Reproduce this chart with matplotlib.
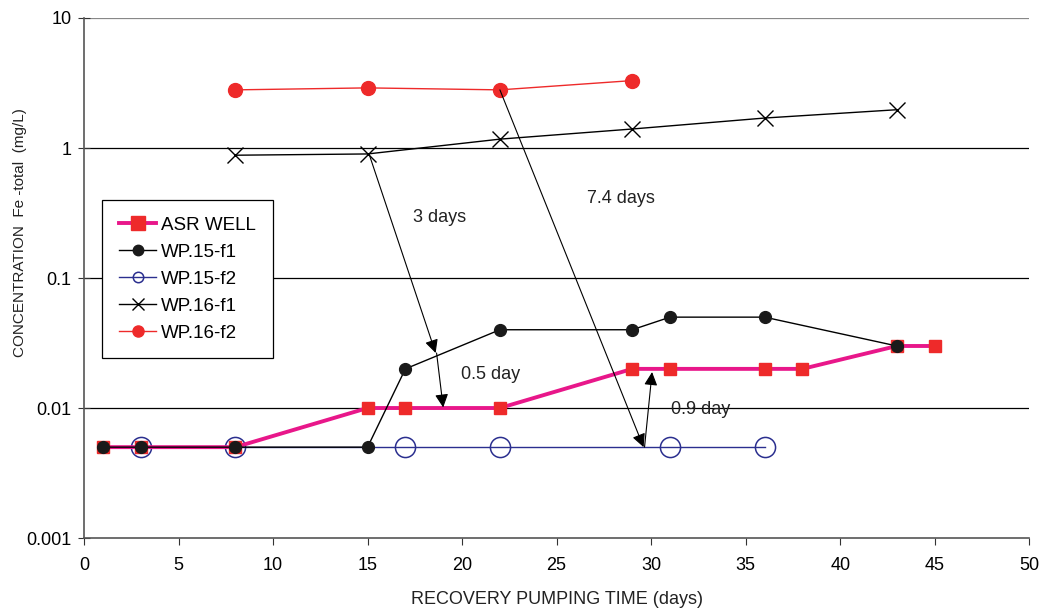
import matplotlib.pyplot as plt

plt.rcParams['font.family'] = ['Liberation Sans', 'DejaVu Sans']

# recovery pumping time (days) and Fe-total concentration (mg/L)
asr_days = [1, 3, 8, 15, 17, 22, 29, 31, 36, 38, 43, 45]
asr_fe = [0.005, 0.005, 0.005, 0.01, 0.01, 0.01, 0.02, 0.02, 0.02, 0.02, 0.03, 0.03]

wp15f1_days = [1, 3, 8, 15, 17, 22, 29, 31, 36, 43]
wp15f1_fe = [0.005, 0.005, 0.005, 0.005, 0.02, 0.04, 0.04, 0.05, 0.05, 0.03]

wp15f2_days = [3, 8, 17, 22, 31, 36]
wp15f2_fe = [0.005, 0.005, 0.005, 0.005, 0.005, 0.005]

wp16f1_days = [8, 15, 22, 29, 36, 43]
wp16f1_fe = [0.88, 0.9, 1.17, 1.4, 1.7, 1.97]

wp16f2_days = [8, 15, 22, 29]
wp16f2_fe = [2.8, 2.9, 2.8, 3.3]

# travel-time arrows: (start, end, label, label position)
arrows = [
    ((15.1, 0.88), (18.6, 0.0265), '3 days', (18.8, 0.29)),
    ((18.65, 0.0265), (19.0, 0.0101), '0.5 day', (21.5, 0.018)),
    ((22.0, 2.8), (29.6, 0.005), '7.4 days', (28.4, 0.41)),
    ((29.65, 0.005), (30.05, 0.0189), '0.9 day', (32.6, 0.0098)),
]

fig = plt.figure(figsize=(10.41, 6.10), dpi=100)
ax = fig.add_axes([0.0807, 0.118, 0.908, 0.8525])

ax.set_yscale('log')
ax.set_xlim(0, 50)
ax.set_ylim(0.001, 10)

for y in [0.01, 0.1, 1]:
    ax.axhline(y, color='black', lw=0.9, zorder=1)
ax.axhline(10, color='#888888', lw=0.9, zorder=1)

ax.plot(wp16f2_days, wp16f2_fe, color='#ee2a2a', lw=1.0, marker='o', ms=10,
        mfc='#ee2a2a', mec='#ee2a2a', label='WP.16-f2', zorder=3)
ax.plot(wp16f1_days, wp16f1_fe, color='black', lw=1.0, marker='x', ms=11,
        mew=1.0, label='WP.16-f1', zorder=3)
ax.plot(wp15f2_days, wp15f2_fe, color='#2b2f8f', lw=1.0, marker='o', ms=14.5,
        mfc='none', mec='#2b2f8f', mew=1.1, label='WP.15-f2', zorder=3)
ax.plot(asr_days, asr_fe, color='#e8178a', lw=2.8, marker='s', ms=9,
        mfc='#ee2a2a', mec='#ee2a2a', label='ASR WELL', zorder=4)
ax.plot(wp15f1_days, wp15f1_fe, color='black', lw=1.0, marker='o', ms=8.5,
        mfc='#1a1a1a', mec='#1a1a1a', label='WP.15-f1', zorder=5)

for start, end, text, pos in arrows:
    ax.annotate('', xy=end, xytext=start,
                arrowprops=dict(arrowstyle='-|>', color='black', lw=0.8,
                                shrinkA=0, shrinkB=0, mutation_scale=20),
                zorder=6)
    ax.text(pos[0], pos[1], text, fontsize=13, ha='center', va='center',
            color='#222222', zorder=7)

handles, labels = ax.get_legend_handles_labels()
order = ['ASR WELL', 'WP.15-f1', 'WP.15-f2', 'WP.16-f1', 'WP.16-f2']
hmap = dict(zip(labels, handles))
leg = ax.legend([hmap[k] for k in order], order, loc='upper left',
                bbox_to_anchor=(0.019, 0.65), borderaxespad=0, fontsize=13.5,
                frameon=True, fancybox=False, edgecolor='black', framealpha=1,
                handlelength=2.0, handletextpad=0.25, labelspacing=0.52,
                borderpad=0.9)
leg.get_frame().set_linewidth(0.9)
leg.set_zorder(10)
for h, ms in zip(leg.legend_handles, [9.5, 7.5, 7.5, 8, 8]):
    h.set_markersize(ms)

ax.spines['top'].set_visible(False)
ax.spines['right'].set_visible(False)
for side in ['left', 'bottom']:
    ax.spines[side].set_color('#555555')
    ax.spines[side].set_linewidth(1.2)

ax.set_xticks(range(0, 51, 5))
ax.set_yticks([0.001, 0.01, 0.1, 1, 10])
ax.set_yticklabels(['0.001', '0.01', '0.1', '1', '10'])
ax.minorticks_off()
ax.tick_params(axis='x', direction='out', length=5, labelsize=13, pad=9, color='#333333')
ax.tick_params(axis='y', direction='inout', length=8, labelsize=13, pad=5, color='#333333')

ax.set_xlabel('RECOVERY PUMPING TIME (days)', fontsize=13, color='#222222', labelpad=12)
fig.text(20 / 1041, 1 - 233 / 610, 'CONCENTRATION  Fe -total  (mg/L)', fontsize=11,
         rotation=90, ha='center', va='center', color='#222222')

fig.savefig('out.png', dpi=100)
